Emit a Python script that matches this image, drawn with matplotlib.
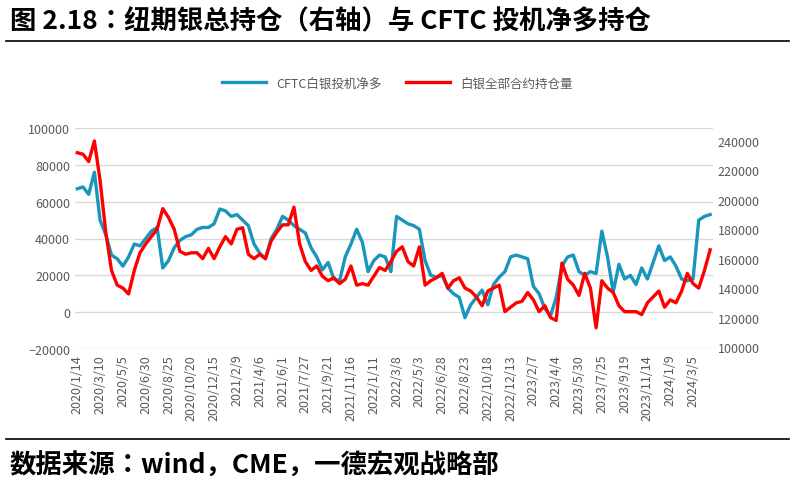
import matplotlib

matplotlib.use("Agg")
import matplotlib.pyplot as plt
import numpy as np

plt.rcParams["font.family"] = ["Noto Sans CJK JP", "DejaVu Sans"]

# biweekly observations, 2020/1/14 .. 2024/4/16
tick_labels = [
    "2020/1/14", "2020/3/10", "2020/5/5", "2020/6/30", "2020/8/25", "2020/10/20",
    "2020/12/15", "2021/2/9", "2021/4/6", "2021/6/1", "2021/7/27", "2021/9/21",
    "2021/11/16", "2022/1/11", "2022/3/8", "2022/5/3", "2022/6/28", "2022/8/23",
    "2022/10/18", "2022/12/13", "2023/2/7", "2023/4/4", "2023/5/30", "2023/7/25",
    "2023/9/19", "2023/11/14", "2024/1/9", "2024/3/5",
]

cftc_net_long = [  # thousand contracts, left axis
    67, 68, 64, 76, 50, 42, 31, 29, 25, 30, 37, 36, 40, 44, 46, 24,
    28, 35, 39, 41, 42, 45, 46, 46, 48, 56, 55, 52, 53, 50, 47, 37,
    32, 29, 40, 45, 52, 50, 47, 45, 43, 35, 30, 23, 27, 18, 17, 30,
    37, 45, 38, 22, 28, 31, 30, 22, 52, 50, 48, 47, 45, 28, 20, 19,
    20, 13, 10, 8, -3, 4, 8, 12, 4, 15, 19, 22, 30, 31, 30, 29,
    14, 10, 2, -2, 8, 25, 30, 31, 22, 20, 22, 21, 44, 30, 11, 26,
    18, 20, 15, 24, 18, 27, 36, 28, 30, 25, 18, 17, 18, 50, 52, 53,
]
open_interest = [  # thousand contracts, right axis
    232, 231, 226, 240, 213, 178, 152, 142, 140, 136, 152, 164, 170, 175, 180, 194,
    188, 180, 165, 163, 164, 164, 160, 167, 160, 168, 175, 170, 180, 181, 163, 160,
    163, 160, 172, 178, 183, 183, 195, 170, 158, 152, 155, 148, 145, 147, 143, 146,
    155, 142, 143, 142, 148, 154, 152, 158, 165, 168, 158, 155, 168, 142, 145, 147,
    150, 140, 145, 147, 140, 138, 134, 128, 138, 140, 142, 124, 127, 130, 131, 137,
    132, 124, 128, 120, 118, 157, 146, 142, 135, 150, 140, 113, 145, 140, 137, 128,
    124, 124, 124, 122, 130, 134, 138, 127, 132, 130, 138, 150, 143, 140, 152, 166,
]

BLUE = "#1A95BC"
RED = "#FF0000"
GREY = "#595959"

x = np.arange(len(cftc_net_long))
fig = plt.figure(figsize=(7.95, 4.89), dpi=100)
ax = fig.add_axes([75 / 795, 1 - 350 / 489, (713 - 75) / 795, (350 - 129) / 489])
ax2 = ax.twinx()

l1, = ax.plot(x, np.array(cftc_net_long) * 1000, color=BLUE, lw=2.4, label="CFTC白银投机净多")
l2, = ax2.plot(x, np.array(open_interest) * 1000, color=RED, lw=2.4, label="白银全部合约持仓量")

ax.set_xlim(-0.4, 111.5)
ax.set_ylim(-20000, 100000)
ax.set_yticks(np.arange(-20000, 100001, 20000))
ax2.set_ylim(98600, 248800)
ax2.set_yticks(np.arange(100000, 240001, 20000))
ax.set_xticks(np.arange(0, 109, 4))
ax.set_xticklabels(tick_labels, rotation=90, fontsize=9, color=GREY)
ax.grid(axis="y", color="#D9D9D9", lw=1)
ax.set_axisbelow(True)
for a in (ax, ax2):
    for s in a.spines.values():
        s.set_visible(False)
    a.tick_params(length=0, labelsize=9, labelcolor=GREY)

fig.legend(handles=[l1, l2], loc="center", bbox_to_anchor=(0.5, 1 - 84 / 489),
           ncol=2, frameon=False, fontsize=9, labelcolor=GREY, handlelength=3.5,
           columnspacing=2)

fig.text(0.012, 1 - 22 / 489, "图 2.18：纽期银总持仓（右轴）与 CFTC 投机净多持仓",
         fontsize=19, fontweight="bold", va="center")
fig.add_artist(plt.Line2D([0.008, 0.992], [1 - 42 / 489] * 2, color="black", lw=1.2))
fig.add_artist(plt.Line2D([0.008, 0.992], [1 - 440 / 489] * 2, color="black", lw=1.2))
fig.text(0.012, 1 - 466 / 489, "数据来源：wind，CME，一德宏观战略部",
         fontsize=19, fontweight="bold", va="center")

fig.savefig("out.png", dpi=100)
